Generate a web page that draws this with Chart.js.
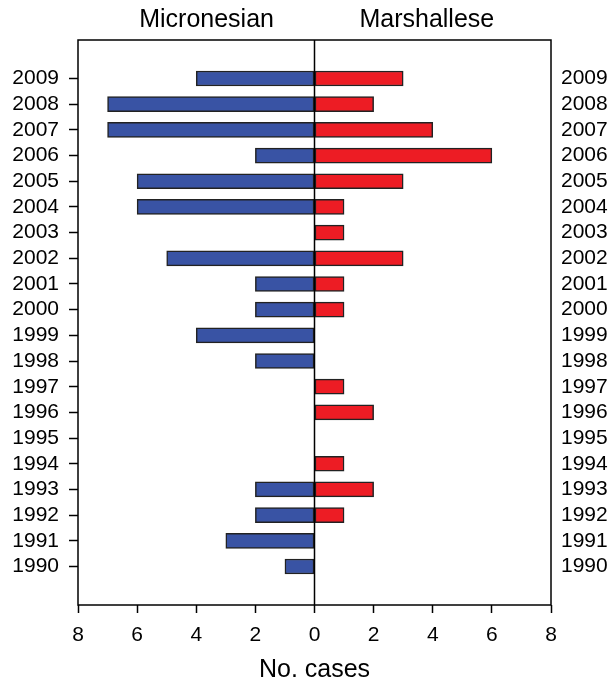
<!DOCTYPE html>
<html>
<head>
<meta charset="utf-8">
<script src="https://cdn.jsdelivr.net/npm/chart.js@4.4.0/dist/chart.umd.min.js"></script>
<style>
  html, body { margin: 0; padding: 0; background: #fff; }
  #wrap { width: 613px; height: 685px; }
</style>
</head>
<body>
<div id="wrap"><canvas id="grafico" width="613" height="685"></canvas></div>
<script>
// years, top to bottom (blank slots pad the frame above and below)
const years = ['', '2009', '2008', '2007', '2006', '2005', '2004', '2003', '2002', '2001', '2000',
  '1999', '1998', '1997', '1996', '1995', '1994', '1993', '1992', '1991', '1990', ''];
const micronesian = [null, 4, 7, 7, 2, 6, 6, 0, 5, 2, 2, 4, 2, 0, 0, 0, 0, 2, 2, 3, 1, null];
const marshallese = [null, 3, 2, 4, 6, 3, 1, 1, 3, 1, 1, 0, 0, 1, 2, 0, 1, 2, 1, 0, 0, null];
const xTicks = [-8, -6, -4, -2, 0, 2, 4, 6, 8];

const fuente = 'Liberation Sans, Arial, sans-serif';

// frame, zero line and the two group headers
const marco = {
  id: 'marco',
  afterDatasetsDraw(chart) {
    const { ctx, chartArea: a, scales } = chart;
    ctx.save();
    ctx.strokeStyle = '#000';
    ctx.lineWidth = 1.5;
    ctx.strokeRect(a.left, a.top, a.right - a.left, a.bottom - a.top);
    const x0 = scales.x.getPixelForValue(0);
    ctx.beginPath();
    ctx.moveTo(x0, a.top);
    ctx.lineTo(x0, a.bottom);
    ctx.stroke();
    ctx.fillStyle = '#000';
    ctx.font = '25px ' + fuente;
    ctx.textAlign = 'center';
    ctx.textBaseline = 'middle';
    ctx.fillText('Micronesian', scales.x.getPixelForValue(-3.65), 20);
    ctx.fillText('Marshallese', scales.x.getPixelForValue(3.8), 20);
    ctx.restore();
  }
};

const tickSoloAnios = c => (years[c.index] ? '#000' : 'rgba(0,0,0,0)');

new Chart(document.getElementById('grafico').getContext('2d'), {
  type: 'bar',
  data: {
    labels: years,
    datasets: [{
      label: 'Micronesian',
      data: micronesian.map(v => v === null ? null : -v),
      backgroundColor: '#3953a4',
      borderColor: '#222',
      borderWidth: 1.5,
      borderSkipped: false,
      barThickness: 15
    }, {
      label: 'Marshallese',
      data: marshallese,
      backgroundColor: '#ed1c24',
      borderColor: '#222',
      borderWidth: 1.5,
      borderSkipped: false,
      barThickness: 15
    }]
  },
  options: {
    indexAxis: 'y',
    responsive: false,
    animation: false,
    layout: { padding: { top: 40, left: 0, right: 0, bottom: 0 } },
    plugins: { legend: { display: false }, tooltip: { enabled: false } },
    scales: {
      x: {
        type: 'linear',
        min: -8, max: 8,
        stacked: true,
        afterBuildTicks: s => { s.ticks = xTicks.map(v => ({ value: v })); },
        grid: { drawOnChartArea: false, drawTicks: true, tickLength: 8, tickColor: '#000', tickWidth: 1.5 },
        border: { display: false },
        ticks: {
          color: '#000', font: { family: fuente, size: 21 }, padding: 10,
          callback: v => Math.abs(v)
        },
        title: { display: true, text: 'No. cases', color: '#000', font: { family: fuente, size: 25 }, padding: { top: 6, bottom: 0 } },
        afterFit: s => { s.height = 80; }
      },
      y: {
        type: 'category',
        stacked: true,
        position: 'left',
        grid: { offset: false, drawOnChartArea: false, drawTicks: true, tickLength: 9, tickColor: tickSoloAnios, tickWidth: 1.5 },
        border: { display: false },
        ticks: { color: '#000', font: { family: fuente, size: 21 }, padding: 10, autoSkip: false },
        afterFit: s => { s.width = 78; }
      },
      y2: {
        type: 'category',
        labels: years,
        position: 'right',
        grid: { display: false, drawTicks: false },
        border: { display: false },
        ticks: { color: '#000', font: { family: fuente, size: 21 }, padding: 10, autoSkip: false },
        afterFit: s => { s.width = 62; }
      }
    }
  },
  plugins: [marco]
});
</script>
</body>
</html>
